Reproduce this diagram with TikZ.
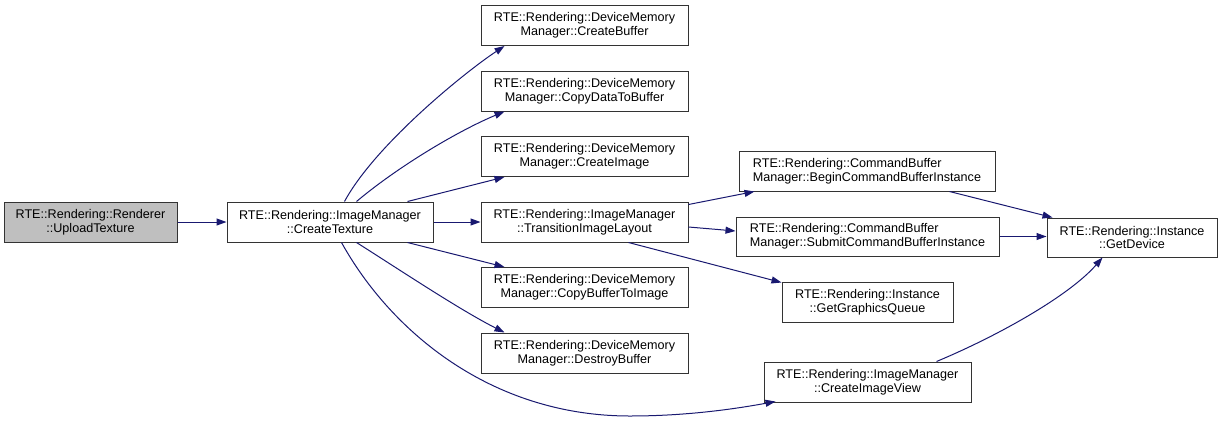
\documentclass[tikz,border=0pt]{standalone}
\usepackage{fontspec}
\setmainfont{Liberation Sans}
\usetikzlibrary{arrows.meta,calc}
\definecolor{edgec}{HTML}{191970}
\definecolor{boxc}{HTML}{333333}
\definecolor{grayfill}{HTML}{BFBFBF}
\begin{document}
\begin{tikzpicture}[x=1pt,y=-1pt,
  box/.style={draw=boxc, line width=1pt, fill=white, inner sep=0pt, align=center,
    minimum height=40pt, font=\fontsize{12.6}{13.8}\selectfont},
  lbox/.style={box, align=left},
  call/.style={draw=edgec, line width=1pt, -{Triangle[length=10pt,width=7pt]}}]
\useasboundingbox (0,0) rectangle (1223,421);
% nodes
\node[box, fill=grayfill, minimum width=173pt] (up) at (90.5,222) {RTE::Rendering::Renderer\\::UploadTexture};
\node[box, minimum width=206pt] (ct) at (330,222) {RTE::Rendering::ImageManager\\::CreateTexture};
\node[box, minimum width=207pt] (cb) at (584.5,25.5) {RTE::Rendering::DeviceMemory\\Manager::CreateBuffer};
\node[box, minimum width=207pt] (cd) at (584.5,91) {RTE::Rendering::DeviceMemory\\Manager::CopyDataToBuffer};
\node[box, minimum width=207pt] (ci) at (584.5,156.5) {RTE::Rendering::DeviceMemory\\Manager::CreateImage};
\node[box, minimum width=207pt] (til) at (584.5,222) {RTE::Rendering::ImageManager\\::TransitionImageLayout};
\node[box, minimum width=207pt] (cbi) at (584.5,287.5) {RTE::Rendering::DeviceMemory\\Manager::CopyBufferToImage};
\node[box, minimum width=207pt] (db) at (584.5,353) {RTE::Rendering::DeviceMemory\\Manager::DestroyBuffer};
\node[lbox, minimum width=256pt] (bc) at (867,171) {RTE::Rendering::CommandBuffer\\Manager::BeginCommandBufferInstance};
\node[lbox, minimum width=263pt, minimum height=39pt] (sc) at (867.5,236.5) {RTE::Rendering::CommandBuffer\\Manager::SubmitCommandBufferInstance};
\node[box, minimum width=171pt] (gq) at (867.5,302) {RTE::Rendering::Instance\\::GetGraphicsQueue};
\node[box, minimum width=207pt] (civ) at (867.5,382) {RTE::Rendering::ImageManager\\::CreateImageView};
\node[box, minimum width=170pt, minimum height=39pt] (gd) at (1132,237.5) {RTE::Rendering::Instance\\::GetDevice};
% edges
\draw[call] (up) -- (ct);
\draw[call] ([xshift=118pt]ct.north west) .. controls (375,145) and (465,72) .. ([xshift=24pt]cb.south west);
\draw[call] ([xshift=130pt]ct.north west) .. controls (400,165) and (460,130) .. ([xshift=24pt]cd.south west);
\draw[call] ([xshift=181pt]ct.north west) -- ([xshift=24pt]ci.south west);
\draw[call] (ct) -- (til);
\draw[call] ([xshift=181pt]ct.south west) -- ([xshift=24pt]cbi.north west);
\draw[call] ([xshift=130pt]ct.south west) .. controls (400,270) and (460,310) .. ([xshift=24pt]db.north west);
\draw[call] ([xshift=115pt]ct.south west) .. controls (390,330) and (490,416) .. (630,416)
  .. controls (690,416) and (740,408) .. ([xshift=12pt,yshift=1pt]civ.south west);
\draw[call] ([yshift=-3pt]til.north east) -- ([xshift=16pt]bc.south west);
\draw[call] ([yshift=-5pt]til.east) -- ([yshift=5.5pt]sc.west);
\draw[call] ([xshift=148pt]til.south west) -- ([yshift=-1pt]gq.north west);
\draw[call] ([xshift=211pt]bc.south west) -- ([xshift=6pt]gd.north west);
\draw[call] (sc.east) -- (sc.east -| gd.west);
\draw[call] ([xshift=173pt]civ.north west) .. controls (1000,335) and (1070,295) .. ([xshift=56pt]gd.south west);
\end{tikzpicture}
\end{document}
